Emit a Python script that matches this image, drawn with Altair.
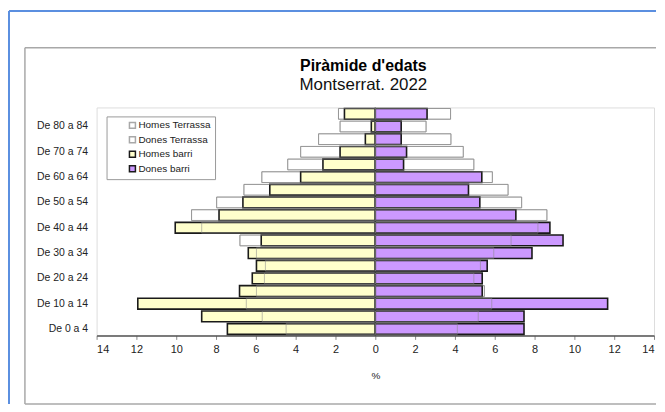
import altair as alt
import pandas as pd

edats = ["De 0 a 4", "De 5 a 9", "De 10 a 14", "De 15 a 19", "De 20 a 24", "De 25 a 29",
         "De 30 a 34", "De 35 a 39", "De 40 a 44", "De 45 a 49", "De 50 a 54", "De 55 a 59",
         "De 60 a 64", "De 65 a 69", "De 70 a 74", "De 75 a 79", "De 80 a 84", "De 85 i més"]
etiquetes = ["De 0 a 4", "De 10 a 14", "De 20 a 24", "De 30 a 34", "De 40 a 44",
             "De 50 a 54", "De 60 a 64", "De 70 a 74", "De 80 a 84"]

homes_terrassa = [4.48, 5.68, 6.48, 5.97, 5.57, 5.52, 5.97, 6.80, 8.72, 9.23, 7.97, 6.60, 5.70, 4.40, 3.75, 2.85, 1.77, 1.85]
dones_terrassa = [4.12, 5.17, 5.85, 5.48, 4.95, 5.28, 5.95, 6.82, 8.17, 8.62, 7.35, 6.67, 5.88, 4.95, 4.42, 3.80, 2.55, 3.78]
homes_barri = [7.43, 8.72, 11.93, 6.82, 6.18, 5.97, 6.38, 5.73, 10.05, 7.85, 6.65, 5.30, 3.75, 2.63, 1.77, 0.50, 0.20, 1.55]
dones_barri = [7.47, 7.47, 11.67, 5.37, 5.37, 5.62, 7.87, 9.43, 8.77, 7.06, 5.25, 4.68, 5.35, 1.42, 1.57, 1.30, 1.30, 2.60]

series = ["Homes Terrassa", "Dones Terrassa", "Homes barri", "Dones barri"]
fills = ["#ffffff", "#ffffff", "#ffffcc", "#cc99ff"]
strokes = ["#a8a8a8", "#a8a8a8", "#1a1a1a", "#1a1a1a"]

rows = []
for serie, vals, sign, grup in [
    ("Homes Terrassa", homes_terrassa, -1, "Terrassa"),
    ("Dones Terrassa", dones_terrassa, 1, "Terrassa"),
    ("Homes barri", homes_barri, -1, "barri"),
    ("Dones barri", dones_barri, 1, "barri"),
]:
    for e, v in zip(edats, vals):
        rows.append({"edat": e, "serie": serie, "valor": sign * v, "grup": grup})
df = pd.DataFrame(rows)

FONT = "Liberation Sans"

legend = alt.Legend(title=None, orient="none", legendX=10, legendY=9,
                    symbolType="square", symbolSize=36, symbolOffset=17,
                    symbolStrokeWidth=1.5, labelFontSize=10, labelFont=FONT,
                    labelColor="#222222", strokeColor="#999999", padding=4,
                    rowPadding=2.5, labelOffset=1, fillColor="#ffffff")

x_enc = alt.X("valor:Q", stack=None,
              scale=alt.Scale(domain=[-14, 14], nice=False),
              axis=alt.Axis(values=list(range(-14, 15, 2)), labelExpr="abs(datum.value)",
                            title="%", grid=False, tickSize=4, tickColor="#888888",
                            domainColor="#555555", domainWidth=1.5,
                            labelFontSize=11, labelFont=FONT, labelColor="#222222",
                            labelPadding=4, titleFontSize=10, titleFont=FONT,
                            titleFontWeight="normal", titleColor="#222222", titlePadding=16))
y_enc = alt.Y("edat:N", sort=edats[::-1],
              scale=alt.Scale(paddingInner=0.15, paddingOuter=0.08),
              axis=alt.Axis(values=etiquetes, title=None, ticks=False, domain=False,
                            labelFontSize=10.5, labelFont=FONT, labelColor="#222222",
                            labelPadding=9))
fill_enc = alt.Fill("serie:N", scale=alt.Scale(domain=series, range=fills), legend=legend)
stroke_enc = alt.Stroke("serie:N", scale=alt.Scale(domain=series, range=strokes), legend=legend)

base = alt.Chart(df)
terrassa = base.transform_filter(alt.datum.grup == "Terrassa").mark_bar(strokeWidth=1).encode(
    x=x_enc, y=y_enc, fill=fill_enc, stroke=stroke_enc)
barri = base.transform_filter(alt.datum.grup == "barri").mark_bar(strokeWidth=1.6).encode(
    x=x_enc, y=y_enc, fill=fill_enc, stroke=stroke_enc)
contorn = base.transform_filter(alt.datum.grup == "Terrassa").mark_bar(
    fillOpacity=0, stroke="#888888", strokeOpacity=0.55, strokeWidth=1).encode(x=x_enc, y=y_enc)

deco = alt.Chart(pd.DataFrame({"k": [0]}))
blau_top = deco.mark_rule(color="#5b8fe0", strokeWidth=2).encode(
    x=alt.value(-88), x2=alt.value(562), y=alt.value(-97))
blau_esq = deco.mark_rule(color="#5b8fe0", strokeWidth=2).encode(
    x=alt.value(-88), y=alt.value(-97), y2=alt.value(298))
gris_top = deco.mark_rule(color="#a8a8a8", strokeWidth=1.5).encode(
    x=alt.value(-72), x2=alt.value(562), y=alt.value(-60))
gris_esq = deco.mark_rule(color="#a8a8a8", strokeWidth=1.5).encode(
    x=alt.value(-72), y=alt.value(-60), y2=alt.value(298))
gris_baix = deco.mark_rule(color="#a8a8a8", strokeWidth=1.5).encode(
    x=alt.value(-72), x2=alt.value(562), y=alt.value(298))

chart = alt.layer(blau_top, blau_esq, gris_top, gris_esq, gris_baix, terrassa, barri, contorn).properties(
    width=560, height=229,
    padding={"left": 0, "top": 1, "right": 0, "bottom": 0},
    title=alt.TitleParams(text="Piràmide d'edats", subtitle="Montserrat. 2022",
                          fontSize=16, fontWeight="bold", font=FONT, color="#000000",
                          subtitleFontSize=17, subtitleFont=FONT, subtitleColor="#111111",
                          subtitlePadding=3, anchor="middle", frame="group", dx=-12, offset=-83),
).configure_view(stroke="#b5b5b5", strokeWidth=1.5).configure(background="#ffffff")

chart.save("out.html", embed_options={"renderer": "svg", "actions": False})
